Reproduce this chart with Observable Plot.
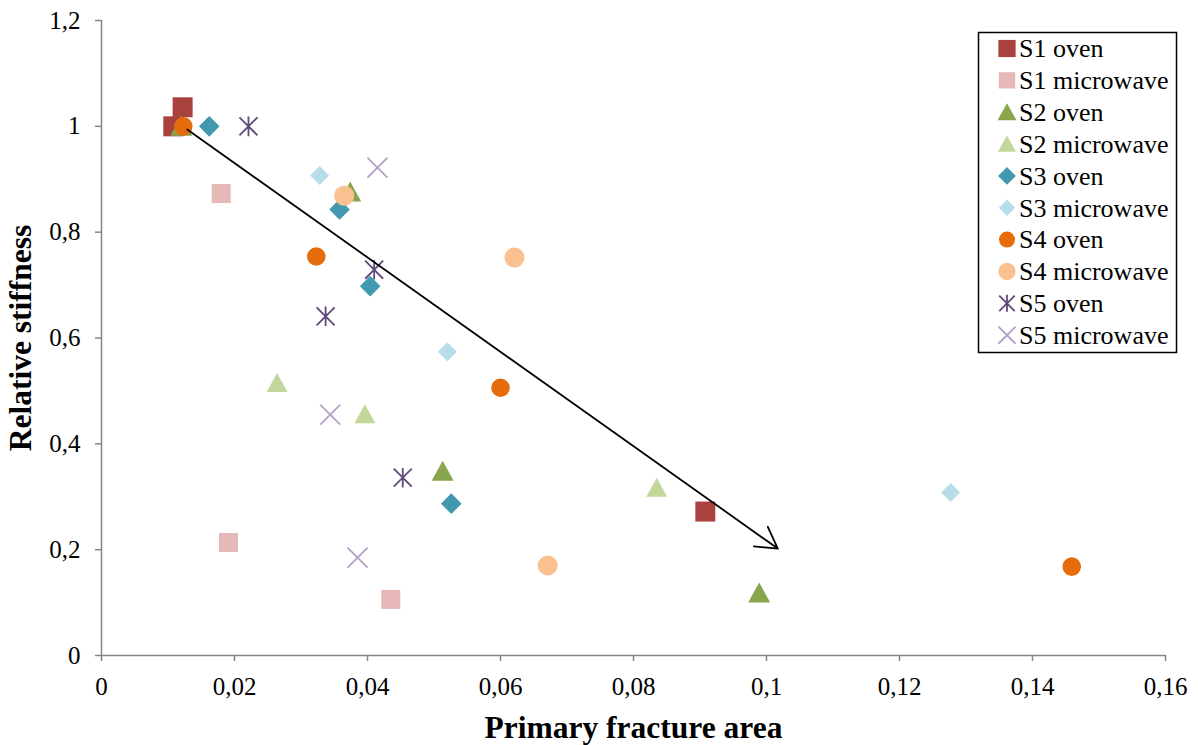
<!DOCTYPE html>
<html>
<head>
<meta charset="utf-8">
<script src="https://cdn.jsdelivr.net/npm/d3@7"></script>
<script src="https://cdn.jsdelivr.net/npm/@observablehq/plot@0.6"></script>
<style>
  body { margin: 0; background: #fff; }
  #wrap { width: 1198px; height: 745px; }
  #wrap svg, #wrap svg text { font-family: "Liberation Serif", "Times New Roman", Times, serif !important; }
</style>
</head>
<body>
<div id="wrap"></div>
<script>
// ---------- data ----------
const seriesNames = ["S1 oven", "S1 microwave", "S2 oven", "S2 microwave", "S3 oven",
                     "S3 microwave", "S4 oven", "S4 microwave", "S5 oven", "S5 microwave"];

const s1OvenX = [0.0108, 0.0122, 0.0908];
const s1OvenY = [1.0, 1.036, 0.272];
const s1MicroX = [0.0180, 0.0191, 0.0435];
const s1MicroY = [0.873, 0.2135, 0.106];
const s2OvenX = [0.0120, 0.0374, 0.0513, 0.0989];
const s2OvenY = [1.0, 0.876, 0.348, 0.118];
const s2MicroX = [0.0264, 0.0396, 0.0835];
const s2MicroY = [0.515, 0.456, 0.317];
const s3OvenX = [0.0162, 0.0358, 0.0404, 0.0526];
const s3OvenY = [1.0, 0.843, 0.698, 0.287];
const s3MicroX = [0.0328, 0.0520, 0.1277];
const s3MicroY = [0.907, 0.574, 0.308];
const s4OvenX = [0.0123, 0.0323, 0.0600, 0.1459];
const s4OvenY = [1.0, 0.754, 0.506, 0.168];
const s4MicroX = [0.0365, 0.0621, 0.0671];
const s4MicroY = [0.869, 0.752, 0.170];
const s5OvenX = [0.0221, 0.0410, 0.0337, 0.0453];
const s5OvenY = [1.0, 0.729, 0.641, 0.336];
const s5MicroX = [0.0415, 0.0344, 0.0385];
const s5MicroY = [0.922, 0.455, 0.185];

const trendArrowX = [0.0129, 0.1017];
const trendArrowY = [0.994, 0.202];

const xTicks = [0, 0.02, 0.04, 0.06, 0.08, 0.1, 0.12, 0.14, 0.16];
const yTicks = [0, 0.2, 0.4, 0.6, 0.8, 1, 1.2];
const xTitle = "Primary fracture area";
const yTitle = "Relative stiffness";

// ---------- custom marker shapes ----------
const shapes = {
  square: { draw(c, s) { const r = Math.sqrt(s / Math.PI); c.rect(-r, -r, 2 * r, 2 * r); } },
  triangle: { draw(c, s) { const r = Math.sqrt(s / Math.PI);
    c.moveTo(0, -1.05 * r); c.lineTo(1.1 * r, 0.95 * r); c.lineTo(-1.1 * r, 0.95 * r); c.closePath(); } },
  diamond: { draw(c, s) { const r = Math.sqrt(s / Math.PI);
    c.moveTo(0, -r); c.lineTo(r, 0); c.lineTo(0, r); c.lineTo(-r, 0); c.closePath(); } },
  circle: { draw(c, s) { const r = Math.sqrt(s / Math.PI); c.moveTo(r, 0); c.arc(0, 0, r, 0, 2 * Math.PI); } },
  star: { draw(c, s) { const r = Math.sqrt(s / Math.PI), k = 0.92 * r;
    c.moveTo(0, -r); c.lineTo(0, r);
    c.moveTo(-k, -k); c.lineTo(k, k);
    c.moveTo(k, -k); c.lineTo(-k, k); } },
  cross: { draw(c, s) { const r = Math.sqrt(s / Math.PI);
    c.moveTo(-r, -r); c.lineTo(r, r); c.moveTo(r, -r); c.lineTo(-r, r); } }
};

const styles = [
  { shape: "square",   color: "#A9423F", r: 10,  filled: true },
  { shape: "square",   color: "#E6B9B8", r: 9.5, filled: true },
  { shape: "triangle", color: "#8AA64C", r: 10,  filled: true },
  { shape: "triangle", color: "#C4D79B", r: 9.5, filled: true },
  { shape: "diamond",  color: "#4198AF", r: 10.3, filled: true },
  { shape: "diamond",  color: "#B7DEE8", r: 9.5, filled: true },
  { shape: "circle",   color: "#E46C0A", r: 9.3, filled: true },
  { shape: "circle",   color: "#FAC090", r: 10,  filled: true },
  { shape: "star",     color: "#604A7B", r: 9.8, filled: false },
  { shape: "cross",    color: "#B3A2C7", r: 10,  filled: false }
];

const seriesX = [s1OvenX, s1MicroX, s2OvenX, s2MicroX, s3OvenX, s3MicroX, s4OvenX, s4MicroX, s5OvenX, s5MicroX];
const seriesY = [s1OvenY, s1MicroY, s2OvenY, s2MicroY, s3OvenY, s3MicroY, s4OvenY, s4MicroY, s5OvenY, s5MicroY];

const fmt = d => String(d).replace(".", ",");
const serif = '"Liberation Serif", "Times New Roman", Times, serif';
const axisGray = "#868686";

const dotMarks = seriesNames.map((name, k) => {
  const st = styles[k];
  const rows = seriesX[k].map((x, i) => ({ x, y: seriesY[k][i], series: name }));
  return Plot.dot(rows, {
    x: "x", y: "y", r: st.r, symbol: shapes[st.shape],
    fill: st.filled ? st.color : "none",
    stroke: st.filled ? "none" : st.color,
    strokeWidth: st.filled ? 0 : 1.8
  });
});

const chart = Plot.plot({
  width: 1198, height: 745,
  marginLeft: 101, marginRight: 33, marginTop: 20, marginBottom: 90,
  style: { fontFamily: serif, fontSize: "25px", color: "#000", background: "#fff" },
  x: { domain: [0, 0.16] },
  y: { domain: [0, 1.2] },
  marks: [
    Plot.axisX({ ticks: xTicks, tickFormat: fmt, tickSize: 6, tickPadding: 16, stroke: axisGray, strokeWidth: 1.5, fill: "#000", label: null, fontSize: 25 }),
    Plot.axisY({ ticks: yTicks, tickFormat: fmt, tickSize: 6, tickPadding: 15, stroke: axisGray, strokeWidth: 1.5, fill: "#000", label: null, fontSize: 25 }),
    Plot.ruleY([0], { stroke: axisGray, strokeWidth: 1.5 }),
    Plot.ruleX([0], { stroke: axisGray, strokeWidth: 1.5 }),
    ...dotMarks,
    Plot.arrow([0], {
      x1: () => trendArrowX[0], y1: () => trendArrowY[0],
      x2: () => trendArrowX[1], y2: () => trendArrowY[1],
      stroke: "#000", strokeWidth: 1.8, headLength: 20, headAngle: 60
    }),
    Plot.text([xTitle], { frameAnchor: "bottom", textAnchor: "middle", lineAnchor: "middle", dy: 72, text: d => d, fontWeight: "bold", fontSize: 31.5, fill: "#000" }),
    Plot.text([yTitle], { frameAnchor: "left", textAnchor: "middle", lineAnchor: "middle", dx: -81, rotate: -90, text: d => d, fontWeight: "bold", fontSize: 31.5, fill: "#000" })
  ]
});

// ---------- legend (drawn inside the same SVG) ----------
const svg = d3.select(chart);
svg.attr("font-family", serif);
const lg = svg.append("g").attr("class", "legend").attr("text-anchor", "start");
lg.append("rect").attr("x", 978.5).attr("y", 32.5).attr("width", 198).attr("height", 320)
  .attr("fill", "#fff").attr("stroke", "#000").attr("stroke-width", 1.5);
seriesNames.forEach((name, k) => {
  const st = styles[k];
  const cy = 48.5 + k * 31.85;
  const sz = Math.pow(st.r * 0.86, 2) * Math.PI;
  lg.append("path")
    .attr("transform", `translate(1007,${cy})`)
    .attr("d", d3.symbol(shapes[st.shape], sz)())
    .attr("fill", st.filled ? st.color : "none")
    .attr("stroke", st.filled ? "none" : st.color)
    .attr("stroke-width", st.filled ? 0 : 1.8);
  lg.append("text")
    .attr("x", 1019).attr("y", cy).attr("dy", "0.34em")
    .attr("text-anchor", "start")
    .attr("font-size", 26).attr("fill", "#000")
    .text(name);
});

document.getElementById("wrap").appendChild(chart);
</script>
</body>
</html>
